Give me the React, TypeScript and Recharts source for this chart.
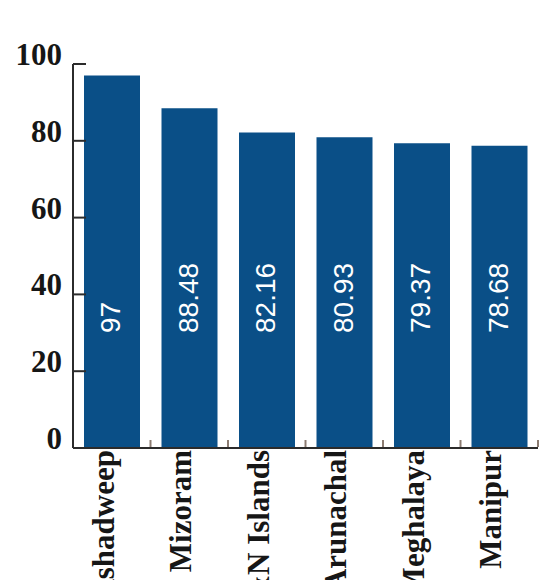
import React from 'react';
import { BarChart, Bar, XAxis, YAxis, LabelList } from 'recharts';

const states = ['Lakshadweep', 'Mizoram', 'A&N Islands', 'Arunachal', 'Meghalaya', 'Manipur'];
const literacy = [97, 88.48, 82.16, 80.93, 79.37, 78.68];
const yTicks = [0, 20, 40, 60, 80, 100];

const data = states.map((name, i) => ({ name, value: literacy[i] }));

const BAR_COLOR = '#0a4f87';
const AXIS_COLOR = '#2b2b2b';
const SERIF = '"Liberation Serif", "DejaVu Serif", serif';
const HALF_BAND = 38.75;

const YTick = (props: any) => {
  const { x, y, payload } = props;
  return (
    <g>
      <line x1={x} y1={y} x2={x + 13} y2={y} stroke={AXIS_COLOR} strokeWidth={2} />
      <text
        x={x - 11}
        y={y + 1}
        textAnchor="end"
        fontFamily={SERIF}
        fontWeight="bold"
        fontSize={31}
        fill="#161616"
      >
        {payload.value}
      </text>
    </g>
  );
};

const XTick = (props: any) => {
  const { x, y, payload } = props;
  const tx = x + 2;
  const ty = y + 2;
  return (
    <g>
      <line
        x1={x + HALF_BAND}
        y1={y - 1}
        x2={x + HALF_BAND}
        y2={y - 8}
        stroke="#8c7c72"
        strokeWidth={2}
      />
      <text
        x={tx}
        y={ty}
        transform={`rotate(-90 ${tx} ${ty})`}
        textAnchor="end"
        fontFamily={SERIF}
        fontWeight="bold"
        fontSize={31}
        fill="#161616"
      >
        {payload.value}
      </text>
    </g>
  );
};

const ValueLabel = (props: any) => {
  const { x, y, width, height, value } = props;
  const tx = x + width / 2 + 8;
  const ty = y + height - 115;
  return (
    <text
      x={tx}
      y={ty}
      transform={`rotate(-90 ${tx} ${ty})`}
      textAnchor="start"
      fontFamily='"Liberation Sans", Arial, sans-serif'
      fontSize={28}
      fill="#ffffff"
    >
      {value}
    </text>
  );
};

export default function App() {
  return (
    <div
      style={{
        position: 'absolute',
        left: 0,
        top: 0,
        width: 546,
        height: 580,
        overflow: 'hidden',
        background: '#ffffff',
      }}
    >
      <BarChart
        width={546}
        height={640}
        data={data}
        margin={{ top: 64, right: 8, left: 0, bottom: 0 }}
        barSize={56}
      >
        <XAxis
          dataKey="name"
          interval={0}
          height={192}
          tickSize={0}
          tickMargin={0}
          tickLine={false}
          axisLine={{ stroke: AXIS_COLOR, strokeWidth: 2 }}
          tick={<XTick />}
        />
        <YAxis
          width={73}
          domain={[0, 100]}
          ticks={yTicks}
          interval={0}
          tickSize={0}
          tickMargin={0}
          tickLine={false}
          axisLine={{ stroke: AXIS_COLOR, strokeWidth: 2 }}
          tick={<YTick />}
        />
        <Bar dataKey="value" fill={BAR_COLOR} isAnimationActive={false}>
          <LabelList dataKey="value" content={<ValueLabel />} />
        </Bar>
      </BarChart>
    </div>
  );
}
